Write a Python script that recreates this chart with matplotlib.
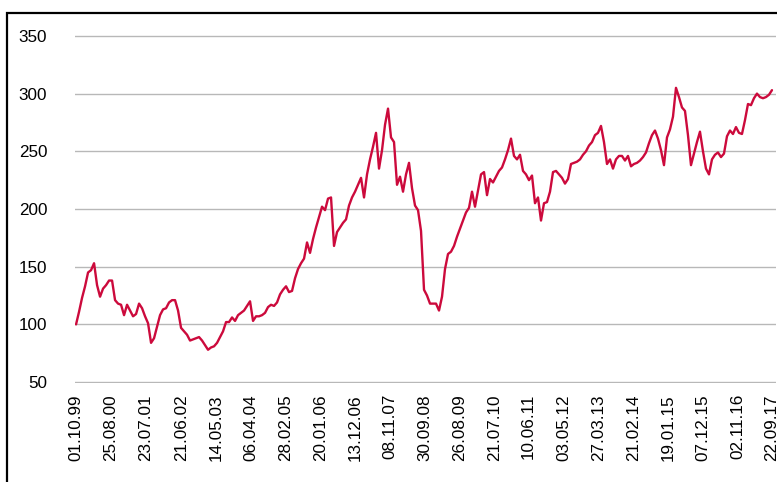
import matplotlib
matplotlib.use("Agg")
import matplotlib.pyplot as plt
from matplotlib.patches import Rectangle
import pandas as pd

plt.rcParams["font.family"] = ["Liberation Sans", "DejaVu Sans"]

# Index level, sampled roughly every four weeks from 01.10.1999 to 22.09.2017
start_date = "1999-10-01"
end_date = "2017-09-22"
index_values = [
    100, 111, 123, 133, 145, 147, 153, 134, 124, 131,
    134, 138, 138, 121, 118, 117, 108, 117, 112, 107,
    109, 118, 114, 107, 101, 84, 88, 98, 108, 113,
    114, 119, 121, 121, 112, 97, 94, 91, 86, 87,
    88, 89, 86, 82, 78, 80, 81, 84, 89, 94,
    102, 102, 106, 103, 108, 110, 112, 116, 120, 103,
    107, 107, 108, 110, 115, 117, 116, 119, 126, 130,
    133, 128, 129, 140, 148, 153, 157, 171, 162, 174,
    184, 193, 202, 199, 209, 210, 168, 180, 184, 188,
    191, 203, 210, 215, 221, 227, 210, 230, 243, 254,
    266, 235, 251, 273, 287, 262, 258, 221, 228, 215,
    230, 240, 218, 203, 199, 181, 130, 125, 118, 118,
    118, 112, 124, 148, 161, 163, 168, 176, 183, 190,
    197, 201, 215, 202, 216, 230, 232, 212, 226, 223,
    228, 233, 236, 243, 251, 261, 246, 243, 247, 233,
    230, 225, 229, 205, 210, 190, 205, 206, 215, 232,
    233, 230, 227, 222, 226, 239, 240, 241, 243, 247,
    250, 255, 258, 264, 266, 272, 258, 239, 243, 235,
    243, 246, 246, 242, 246, 237, 239, 240, 242, 245,
    249, 257, 264, 268, 261, 251, 238, 262, 269, 280,
    305, 297, 288, 285, 264, 238, 248, 258, 267, 250,
    235, 230, 243, 247, 249, 245, 248, 263, 268, 265,
    271, 266, 265, 277, 291, 290, 296, 300, 297, 296,
    297, 299, 303,
]

tick_labels = [
    "01.10.99", "25.08.00", "23.07.01", "21.06.02", "14.05.03", "06.04.04",
    "28.02.05", "20.01.06", "13.12.06", "08.11.07", "30.09.08", "26.08.09",
    "21.07.10", "10.06.11", "03.05.12", "27.03.13", "21.02.14", "19.01.15",
    "07.12.15", "02.11.16", "22.09.17",
]
y_ticks = [50, 100, 150, 200, 250, 300, 350]

dates = pd.date_range(start_date, end_date, periods=len(index_values))
tick_dates = pd.to_datetime(tick_labels, format="%d.%m.%y")

W, H = 777, 482
fig = plt.figure(figsize=(W / 100, H / 100), dpi=100)
ax = fig.add_axes([75 / W, 1 - 383 / H, 701 / W, (383 - 35) / H])

ax.plot(dates, index_values, color="#cc0a3c", linewidth=1.7,
        solid_joinstyle="round", solid_capstyle="round")

ax.set_xlim(dates[0] - pd.Timedelta(days=10), dates[-1] + pd.Timedelta(days=38))
ax.set_ylim(49.2, 350.8)

ax.set_yticks(y_ticks)
ax.set_yticklabels([str(v) for v in y_ticks], fontsize=12.3)
ax.set_xticks(tick_dates)
ax.set_xticklabels(tick_labels, rotation=90, fontsize=12.3, ha="center", va="top")

ax.tick_params(axis="both", length=0, labelcolor="black")
ax.tick_params(axis="y", pad=20)
ax.tick_params(axis="x", pad=8)

ax.grid(axis="y", color="#b8b8b8", linewidth=1.0)
ax.grid(axis="x", visible=False)
ax.set_axisbelow(True)
for spine in ax.spines.values():
    spine.set_visible(False)

# Frame running off the right and bottom edges of the canvas
frame = Rectangle((7 / W, -0.2), 1.5, 1.2 - 12.5 / H, transform=fig.transFigure,
                  fill=False, edgecolor="black", linewidth=1.6, clip_on=False)
fig.add_artist(frame)

fig.savefig("out.png", dpi=100)
